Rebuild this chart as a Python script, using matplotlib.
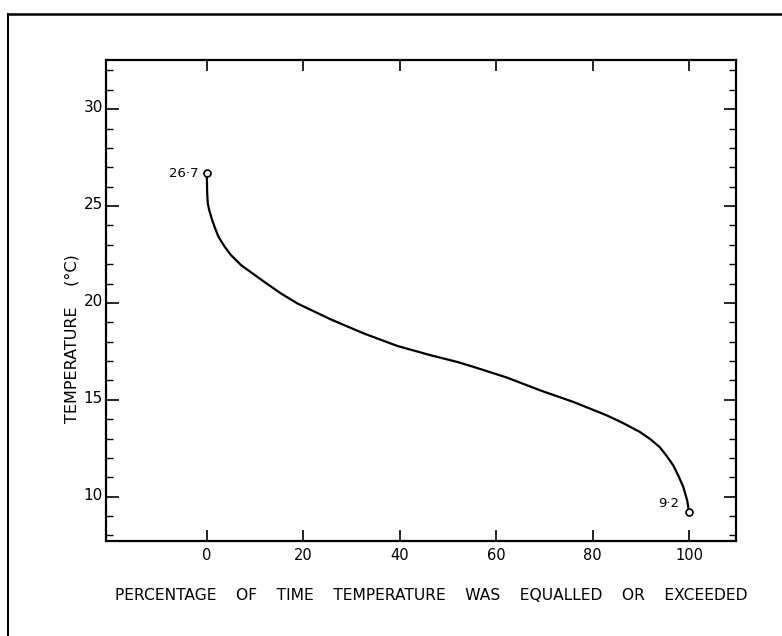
import matplotlib
matplotlib.use("Agg")
from matplotlib import pyplot as plt
from matplotlib.lines import Line2D
from matplotlib.ticker import MultipleLocator
import matplotlib.transforms as mtransforms

# percentage of time temperature was equalled or exceeded, and temperature (deg C)
pct = [0, 0.07, 0.2, 0.48, 1.1, 1.6, 2.4, 3.7, 5.0, 7.1, 9.5, 11.9, 15.3,
       18.8, 25.7, 32.6, 39.5, 46.4, 52.0, 55.3, 62.2, 69.1, 76.0, 82.9,
       86.3, 89.8, 91.9, 93.9, 95.3, 96.7, 97.8, 98.8, 99.6, 100]
temp = [26.7, 25.66, 25.14, 24.80, 24.28, 23.93, 23.42, 22.90, 22.47, 21.95,
        21.52, 21.09, 20.50, 19.97, 19.15, 18.42, 17.78, 17.30, 16.95, 16.70,
        16.15, 15.49, 14.89, 14.20, 13.8, 13.34, 12.98, 12.56, 12.12, 11.62,
        11.07, 10.50, 9.81, 9.2]

end_pct = [0, 100]
end_temp = [26.7, 9.2]
end_labels = ["26·7", "9·2"]

xticks = [0, 20, 40, 60, 80, 100]
yticks = [10, 15, 20, 25, 30]

plt.rcParams['font.family'] = ['DejaVu Sans']

fig = plt.figure(figsize=(7.82, 6.36), dpi=100)
ax = fig.add_axes([0.135, 0.149, 0.806, 0.757])

ax.plot(pct, temp, color='black', lw=1.6, solid_capstyle='round',
        solid_joinstyle='round')
ax.plot(end_pct, end_temp, linestyle='none', marker='o', ms=5,
        mfc='white', mec='black', mew=1.2)

# end point labels
ax.annotate(end_labels[0], (end_pct[0], end_temp[0]), xytext=(-6, 0),
            textcoords='offset points', ha='right', va='center', fontsize=9.5)
ax.annotate(end_labels[1], (end_pct[1], end_temp[1]), xytext=(-7, 6),
            textcoords='offset points', ha='right', va='center', fontsize=9.5)

ax.set_xlim(-21, 109.7)
ax.set_ylim(7.7, 32.55)

ax.set_xticks(xticks)
ax.set_xticklabels([str(v) for v in xticks])
ax.set_yticks(yticks)
ax.set_yticklabels([str(v) for v in yticks])
ax.yaxis.set_minor_locator(MultipleLocator(1))

ax.tick_params(axis='x', which='major', direction='in', top=True, bottom=True,
               length=8, width=1.2, labelsize=10.5, pad=5)
ax.tick_params(axis='y', which='major', direction='in', left=True, right=True,
               length=9, width=1.2, labelsize=11, pad=2)
ax.tick_params(axis='y', which='minor', direction='in', left=True, right=True,
               length=5, width=1.0)

# y tick labels sit slightly above their ticks in the original
shift = mtransforms.ScaledTranslation(0, 3 / 100, fig.dpi_scale_trans)
for lab in ax.get_yticklabels():
    lab.set_transform(lab.get_transform() + shift)

for s in ax.spines.values():
    s.set_linewidth(1.6)

fig.text(431 / 782, 1 - 595 / 636,
         "PERCENTAGE    OF    TIME    TEMPERATURE    WAS    EQUALLED    OR    EXCEEDED",
         ha='center', va='center', fontsize=11.2)
fig.text(72 / 782, 1 - 339 / 636, "TEMPERATURE    (°C)", rotation=90,
         ha='center', va='center', fontsize=11.5)

# scanned page border
fx = 8 / 782
fy = 1 - 14 / 636
fig.add_artist(Line2D([fx, fx], [0, fy], color='black', lw=1.5))
fig.add_artist(Line2D([fx, 1], [fy, fy], color='black', lw=1.8))

fig.savefig("out.png", dpi=100)
